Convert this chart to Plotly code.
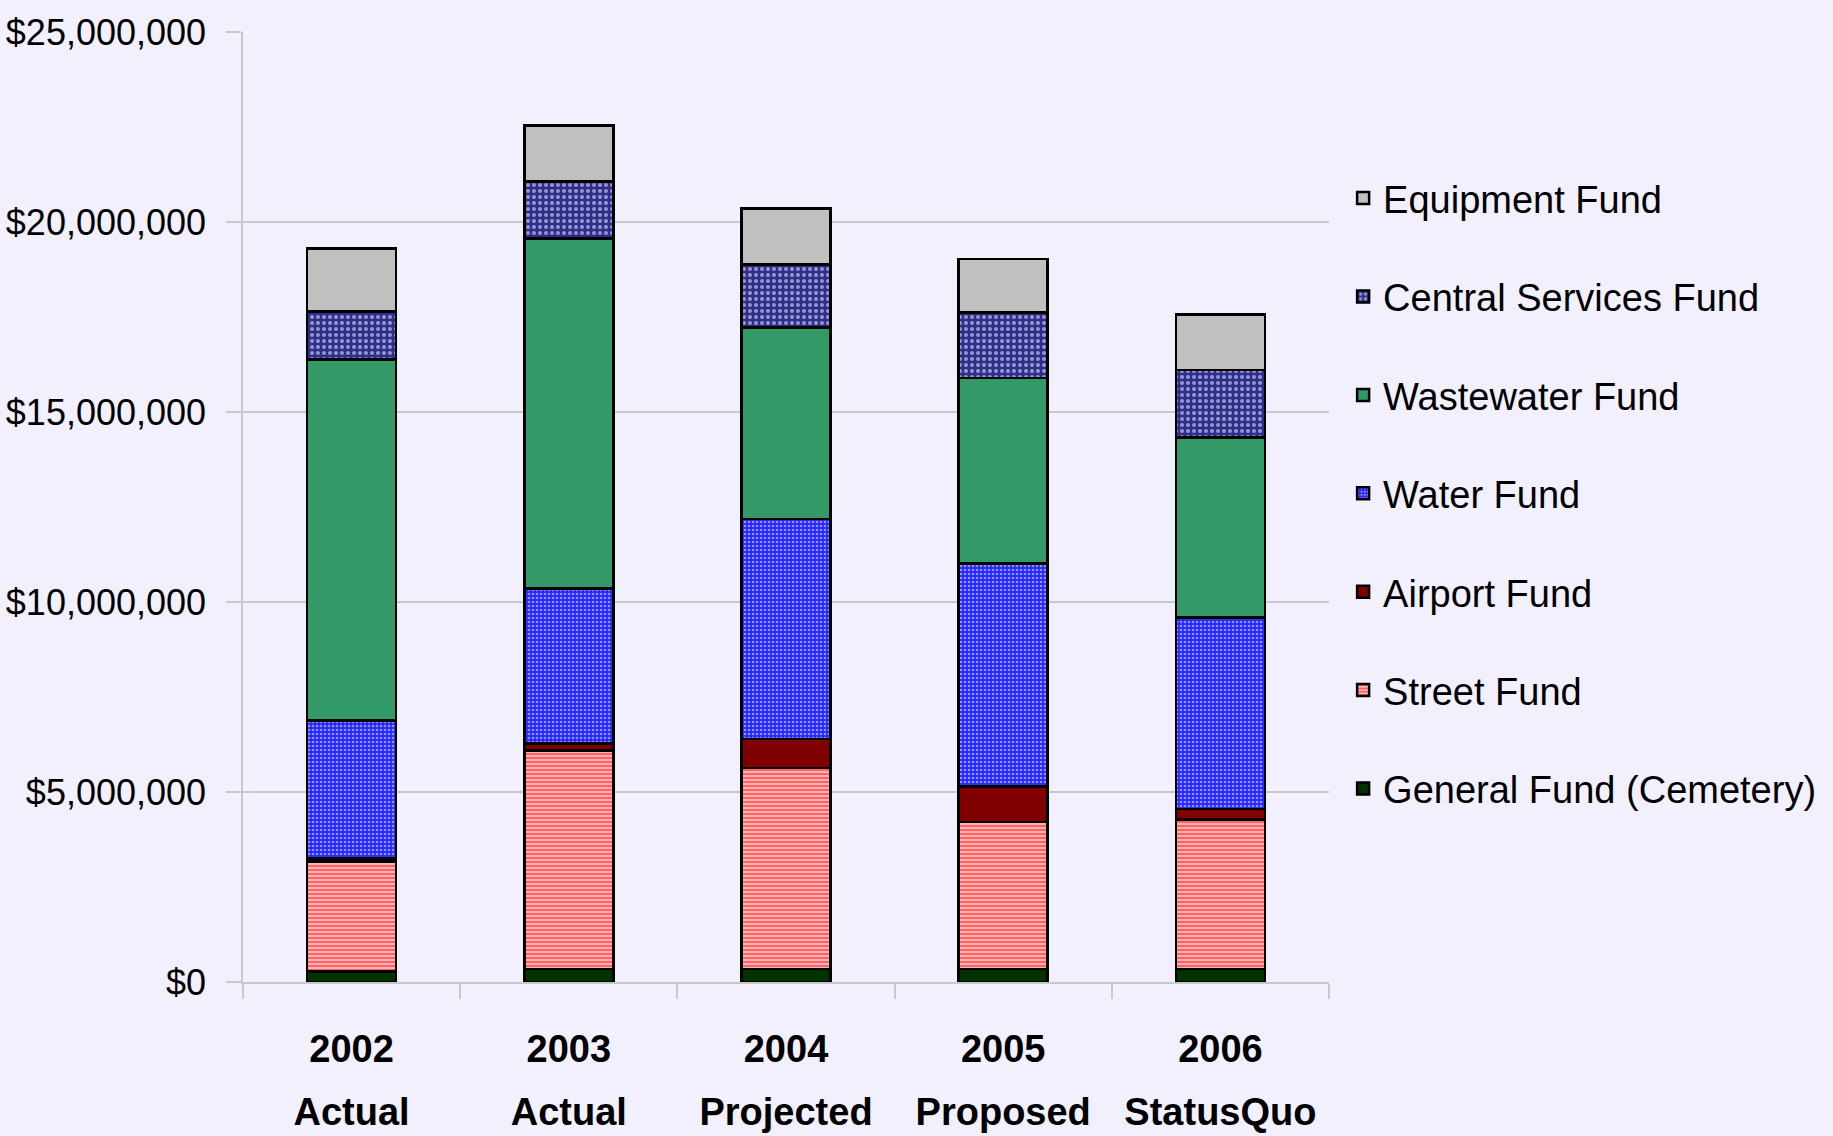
import plotly.graph_objects as go

categories = ["2002", "2003", "2004", "2005", "2006"]
status_labels = ["Actual", "Actual", "Projected", "Proposed", "StatusQuo"]

general_fund = [270000, 340000, 340000, 340000, 340000]
street_fund = [2900000, 5750000, 5290000, 3870000, 3930000]
airport_fund = [80000, 180000, 770000, 930000, 280000]
water_fund = [3630000, 4090000, 5780000, 5870000, 5040000]
wastewater_fund = [9500000, 9200000, 5040000, 4890000, 4740000]
central_services_fund = [1260000, 1500000, 1660000, 1720000, 1780000]
equipment_fund = [1660000, 1480000, 1480000, 1410000, 1450000]

series = [
    ("General Fund (Cemetery)", general_fund, dict(color="#003300")),
    ("Street Fund", street_fund, dict(color="#ff8080", pattern=dict(shape="-", fgcolor="#ff0000", bgcolor="#ffc4c4", size=4, solidity=0.6))),
    ("Airport Fund", airport_fund, dict(color="#800000")),
    ("Water Fund", water_fund, dict(color="#3333ff", pattern=dict(shape=".", fgcolor="#ffffff", bgcolor="#2626ff", size=4, solidity=0.35))),
    ("Wastewater Fund", wastewater_fund, dict(color="#339966")),
    ("Central Services Fund", central_services_fund, dict(color="#333399", pattern=dict(shape=".", fgcolor="#ffffff", bgcolor="#2e2e8f", size=6, solidity=0.35))),
    ("Equipment Fund", equipment_fund, dict(color="#c0c0c0")),
]

FONT = "Liberation Sans, Arial, sans-serif"

fig = go.Figure()
n = len(series)
for i, (name, vals, mk) in enumerate(series):
    marker = dict(mk)
    marker["line"] = dict(color="#000000", width=2.5)
    fig.add_trace(go.Bar(
        x=categories, y=vals, name=name, marker=marker,
        legendgroup=f"g{i}", legendrank=n - i,
        customdata=status_labels,
        hovertemplate="%{x} %{customdata}<br>" + name + ": %{y:$,.0f}<extra></extra>",
    ))

# invisible helper trace so the second (label) axis is drawn
fig.add_trace(go.Scatter(
    x=categories, y=general_fund, xaxis="x2", mode="markers",
    marker=dict(opacity=0), showlegend=False, hoverinfo="skip",
))

BG = "#f3f0fd"
fig.update_layout(
    width=1833, height=1136,
    barmode="stack", bargap=0.59,
    paper_bgcolor=BG, plot_bgcolor=BG,
    margin=dict(l=243, r=504, t=32, b=154),
    font=dict(family=FONT, size=38, color="#000000"),
    showlegend=True,
    legend=dict(
        x=1.013, xanchor="left", y=0.858, yanchor="top",
        traceorder="grouped", tracegroupgap=46,
        bgcolor="rgba(0,0,0,0)",
        font=dict(family=FONT, size=38, color="#000000"),
    ),
    xaxis=dict(
        type="category",
        showgrid=False, zeroline=False, automargin=False,
        showline=True, linecolor="#c8c8c8", linewidth=2,
        ticks="outside", tickson="boundaries", ticklen=15, tickcolor="#c8c8c8", tickwidth=2,
        tickangle=0,
        tickfont=dict(family=FONT, size=38, color="#000000", weight="bold"),
        ticklabelstandoff=32,
    ),
    xaxis2=dict(
        type="category", overlaying="x", side="bottom", matches="x",
        showgrid=False, zeroline=False, automargin=False, showline=False,
        ticks="", tickangle=0,
        tickmode="array", tickvals=categories, ticktext=status_labels,
        tickfont=dict(family=FONT, size=38, color="#000000", weight="bold"),
        ticklabelstandoff=104,
    ),
    yaxis=dict(
        range=[0, 25000000], dtick=5000000, tick0=0,
        tickformat="$,.0f", automargin=False,
        showgrid=True, gridcolor="#c8c8c8", gridwidth=1.5,
        zeroline=False,
        showline=True, linecolor="#c8c8c8", linewidth=1.5,
        ticks="outside", ticklen=15, tickcolor="#c8c8c8", tickwidth=1.5,
        tickfont=dict(family=FONT, size=36, color="#000000"),
        ticklabelstandoff=13,
    ),
)

fig.write_html(
    "out.html",
    config={"displayModeBar": False},
    post_script="document.body.style.margin='0';document.body.style.overflow='hidden';",
)
